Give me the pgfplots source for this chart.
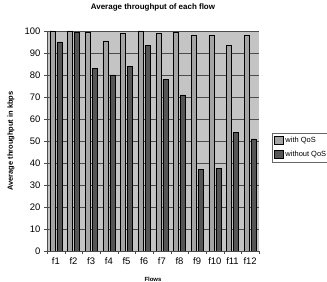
\documentclass[border=0pt]{standalone}
\usepackage{pgfplots}
\pgfplotsset{compat=1.18}
\usepackage{fontspec}
\setmainfont{Liberation Sans}
\definecolor{bgc}{HTML}{C4C4C4}
\definecolor{lbar}{HTML}{A4A4A4}
\definecolor{dbar}{HTML}{555555}
\begin{document}
\begin{tikzpicture}
\path[use as bounding box] (-47bp,-31bp) rectangle (280bp,251bp);
\begin{axis}[
  at={(0,0)}, anchor=south west,
  scale only axis, width=212bp, height=220bp,
  ybar, bar width=5bp,
  xmin=0.5, xmax=12.5, ymin=0, ymax=100,
  xtick={1,...,12},
  xticklabels={f1,f2,f3,f4,f5,f6,f7,f8,f9,f10,f11,f12},
  minor xtick={0.5,1.5,...,12.5},
  major x tick style={draw=none},
  ytick={0,10,...,100},
  axis x line*=bottom, axis y line*=left,
  axis line style={black!70, -},
  tick align=outside, tick style={black!70},
  major tick length=3bp, minor tick length=3bp,
  ymajorgrids, grid style={black!70, line width=0.6pt},
  axis background/.style={fill=bgc},
  ticklabel style={font=\fontsize{9.5}{10}\selectfont},
  /pgf/number format/assume math mode=true,
  xlabel={\textbf{Flows}}, ylabel={\textbf{Average throughput in kbps}},
  xlabel style={font=\fontsize{6}{7}\selectfont, at={(axis description cs:0.5,-0.127)}, anchor=center},
  ylabel style={font=\fontsize{7.5}{8}\selectfont, at={(axis description cs:-0.17,0.5)}, anchor=center},
  title={\textbf{Average throughput of each flow}},
  title style={font=\fontsize{8}{9}\selectfont, at={(axis description cs:0.5,1.082)}, anchor=center},
  legend style={at={(225bp,118bp)}, anchor=north west, font=\fontsize{7.5}{8}\selectfont, draw=black!60, fill=white, inner sep=2bp, row sep=3bp, legend cell align=left},
  legend image code/.code={\draw[#1, draw=black] (0bp,-4bp) rectangle (9bp,4bp);},
  clip=true,
]
\addplot[fill=lbar, draw=black, line width=0.3pt] coordinates {
(1,100) (2,100) (3,99.5) (4,95.5) (5,99) (6,100) (7,99) (8,99.5) (9,98) (10,98) (11,93.5) (12,98)};
\addplot[fill=dbar, draw=black, line width=0.3pt] coordinates {
(1,95) (2,99.5) (3,83) (4,80) (5,84) (6,93.5) (7,78) (8,71) (9,37) (10,37.5) (11,54) (12,51)};
\legend{with QoS, without QoS}
\end{axis}
\end{tikzpicture}
\end{document}
